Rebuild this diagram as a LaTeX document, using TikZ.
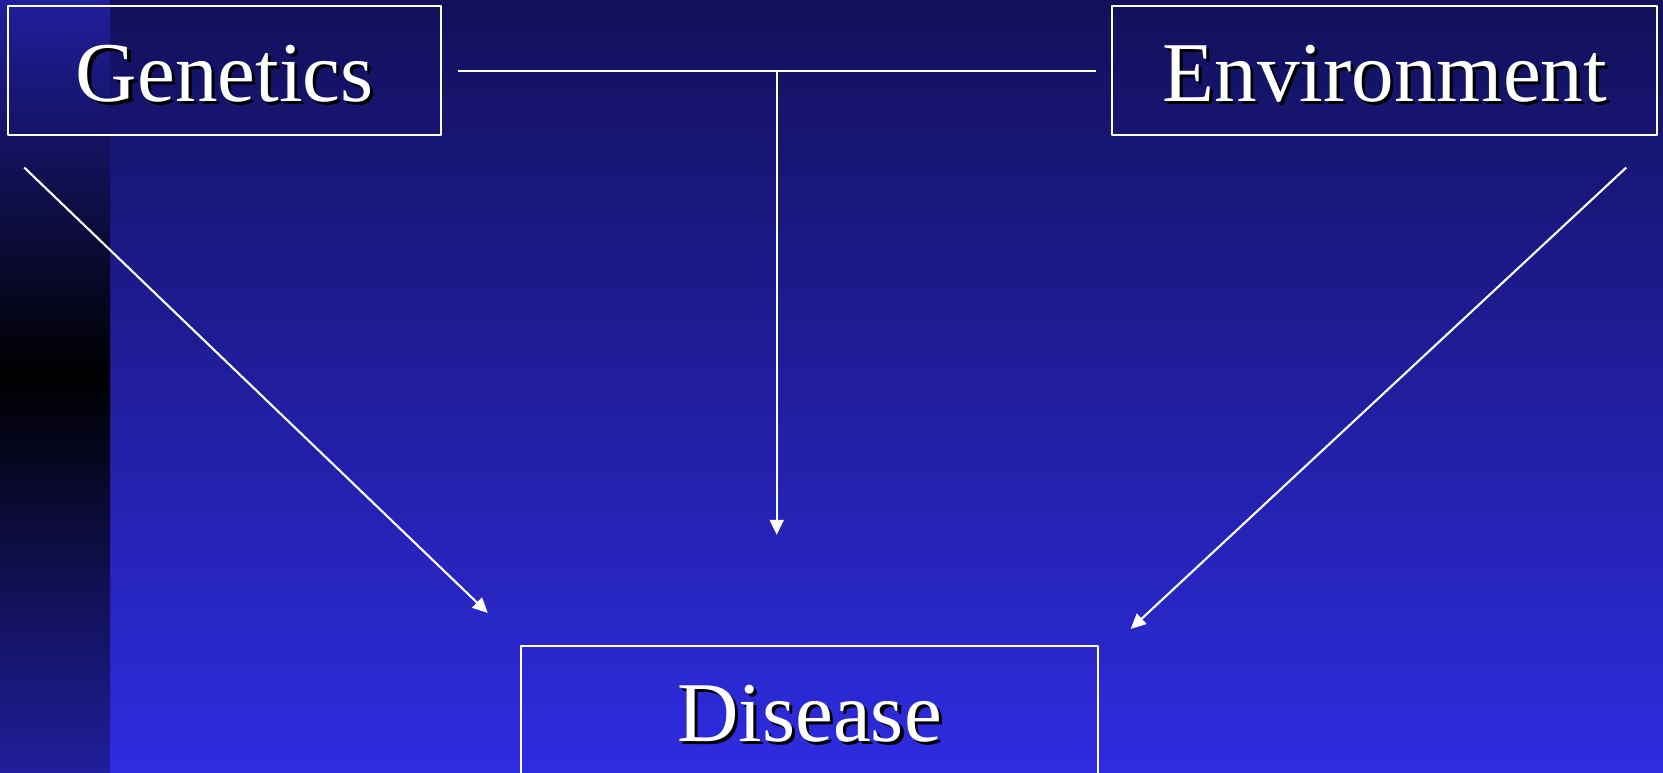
\documentclass[tikz,border=0pt]{standalone}
\usepackage{fontspec}
\setmainfont{Liberation Serif}
\usetikzlibrary{calc,arrows.meta}
\definecolor{slidetop}{HTML}{12105A}
\definecolor{slidebottom}{HTML}{2E2CE0}
\definecolor{stripblue}{HTML}{201E9C}
\newcommand{\shadowed}[1]{\makebox[0pt][l]{\hspace{0.9pt}\raisebox{-0.9pt}{\color{black}#1}}#1}
\tikzset{
  factor/.style={draw=white, line width=0.6pt, text=white, inner sep=0pt,
    minimum height=1.286cm, text height=17.6pt, text depth=0pt,
    font=\fontsize{24.2pt}{29pt}\selectfont},
  link/.style={draw=white, line width=0.6pt},
  cause/.style={link, -{Triangle[length=0.15cm, width=0.14cm]}}
}
\begin{document}
\begin{tikzpicture}[x=0.01cm, y=-0.01cm, line join=round]
\useasboundingbox (0,0) rectangle (1663,773);
\clip (0,0) rectangle (1663,773);
% background
\shade[top color=slidetop, bottom color=slidebottom] (0,0) rectangle (1663,773);
\shade[top color=stripblue, bottom color=black] (0,0) rectangle (110,375);
\shade[top color=black, bottom color=stripblue] (0,375) rectangle (110,773);
% factors
\node[factor, minimum width=4.325cm] (gen) at (224.75,70.7) {\shadowed{Genetics}};
\node[factor, minimum width=5.445cm] (env) at (1384.75,70.7) {\shadowed{Environment}};
\node[factor, minimum width=5.77cm] (dis) at (809.5,710.3) {\shadowed{Disease}};
% connectors
\draw[link, shorten <=0.16cm, shorten >=0.155cm] (gen.east) -- (env.west);
\coordinate (join) at ($(gen.east)!0.5!(env.west)$);
\draw[cause, shorten >=1.10cm] (join) -- (join |- dis.north);
\draw[cause] ($(gen.south west)+(17,31.5)$) -- ($(dis.north west)+(-32,-32)$);
\draw[cause] ($(env.south east)+(-32,31.5)$) -- ($(dis.north east)+(31.5,-16)$);
\end{tikzpicture}
\end{document}
